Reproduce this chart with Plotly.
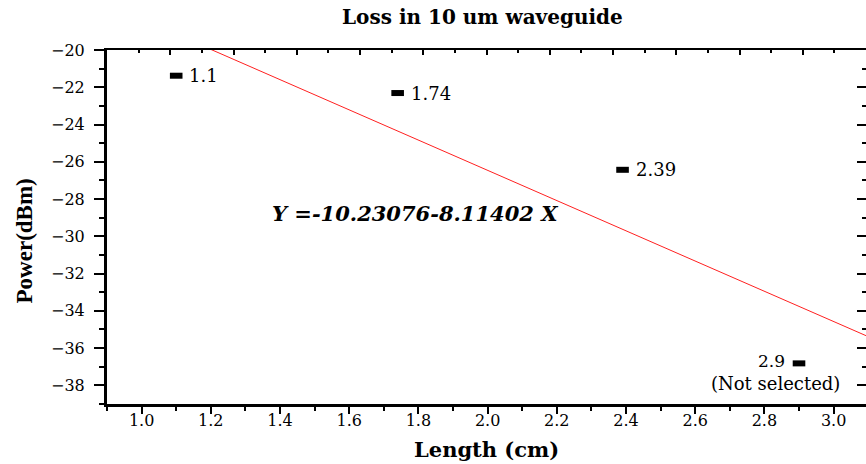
import plotly.graph_objects as go

# Measured output power at each waveguide length
lengths_cm = [1.1, 1.74, 2.39, 2.9]
power_dbm = [-21.38, -22.31, -26.43, -36.82]
point_labels = ["1.1", "1.74", "2.39", "2.9"]

# Linear fit reported for the measurements: Y = A + B*X
fit_intercept = -10.23076
fit_slope = -8.11402

x_range = [0.9, 3.0936]
y_range = [-39, -20]

SERIF = "DejaVu Serif"
TIMES = "Liberation Serif"

fig = go.Figure()

# Fitted line across the full x range (clipped by the plot area)
fit_x = list(x_range)
fit_y = [fit_intercept + fit_slope * v for v in fit_x]
fig.add_trace(go.Scatter(
    x=fit_x, y=fit_y, mode="lines",
    line=dict(color="#ff2020", width=1),
    showlegend=False, hoverinfo="skip",
))

# Data points as small filled bars
fig.add_trace(go.Scatter(
    x=lengths_cm, y=power_dbm, mode="markers",
    marker=dict(symbol="line-ew", size=9, color="black",
                line=dict(color="black", width=6)),
    showlegend=False,
))

# Dummy trace so the mirrored top/right axes are drawn
fig.add_trace(go.Scatter(x=[None], y=[None], xaxis="x2", yaxis="y2",
                         showlegend=False, hoverinfo="skip"))

label_font = dict(family=SERIF, size=18, color="black")
annotations = []
for xv, yv, txt in zip(lengths_cm[:3], power_dbm[:3], point_labels[:3]):
    annotations.append(dict(x=xv, y=yv, xref="x", yref="y", text=txt,
                            showarrow=False, xanchor="left", yanchor="middle",
                            xshift=11, font=label_font))
annotations.append(dict(x=lengths_cm[3], y=power_dbm[3], xref="x", yref="y",
                        text=point_labels[3], showarrow=False,
                        xanchor="right", yanchor="middle", xshift=-12,
                        yshift=2, font=dict(family=SERIF, size=17,
                                            color="black")))
annotations.append(dict(x=lengths_cm[3], y=power_dbm[3], xref="x", yref="y",
                        text="(Not selected)", showarrow=False,
                        xanchor="left", yanchor="middle", xshift=-90,
                        yshift=-20, font=dict(family=SERIF, size=18,
                                              color="black")))

# Fit equation
annotations.append(dict(x=1.371, y=-28.75, xref="x", yref="y",
                        text="<b><i>Y =-10.23076-8.11402 X</i></b>",
                        showarrow=False, xanchor="left", yanchor="middle",
                        font=dict(family=SERIF, size=21, color="black")))

# Titles
annotations.append(dict(x=0.495, y=1.093, xref="paper", yref="paper",
                        text="<b>Loss in 10 um waveguide</b>", showarrow=False,
                        xanchor="center", yanchor="middle",
                        font=dict(family=SERIF, size=20, color="black")))
annotations.append(dict(x=0.5, y=-0.128, xref="paper", yref="paper",
                        text="<b>Length (cm)</b>", showarrow=False,
                        xanchor="center", yanchor="middle",
                        font=dict(family=SERIF, size=21, color="black")))
annotations.append(dict(x=-0.109, y=0.46, xref="paper", yref="paper",
                        text="<b>Power(dBm)</b>", showarrow=False,
                        textangle=-90, xanchor="center", yanchor="middle",
                        font=dict(family=TIMES, size=23, color="black")))

tick_font = dict(family=SERIF, size=16, color="black")

fig.update_layout(
    width=866, height=464,
    margin=dict(l=107, r=0, t=50, b=60),
    paper_bgcolor="white", plot_bgcolor="white",
    annotations=annotations,
    xaxis=dict(
        range=x_range, dtick=0.2, tick0=0, tickformat=".1f",
        ticks="outside", ticklen=7, tickwidth=2, tickcolor="black",
        minor=dict(dtick=0.1, tick0=0, ticks="outside", ticklen=4,
                   tickwidth=2, tickcolor="black"),
        showline=True, linewidth=2.5, linecolor="black",
        showgrid=False, zeroline=False, tickfont=tick_font,
        ticklabelstandoff=-7,
    ),
    yaxis=dict(
        range=y_range, dtick=2, tick0=0,
        ticks="outside", ticklen=10, tickwidth=2, tickcolor="black",
        minor=dict(dtick=1, tick0=0, ticks="outside", ticklen=5,
                   tickwidth=2, tickcolor="black"),
        showline=True, linewidth=3, linecolor="black",
        showgrid=False, zeroline=False, tickfont=tick_font,
        ticklabelstandoff=6,
    ),
    xaxis2=dict(
        overlaying="x", side="top", anchor="y", range=[0, 12],
        dtick=1, tick0=0, ticks="inside", ticklen=5, tickwidth=2,
        tickcolor="black",
        minor=dict(dtick=0.5, tick0=0, ticks="inside", ticklen=3,
                   tickwidth=2, tickcolor="black"),
        showline=True, linewidth=2, linecolor="black",
        showticklabels=False, showgrid=False, zeroline=False,
    ),
    yaxis2=dict(
        overlaying="y", side="right", anchor="x", range=y_range,
        dtick=2, tick0=0, ticks="inside", ticklen=9, tickwidth=2,
        tickcolor="black",
        minor=dict(dtick=1, tick0=0, ticks="inside", ticklen=4,
                   tickwidth=2, tickcolor="black"),
        showline=False, showticklabels=False, showgrid=False,
        zeroline=False,
    ),
)

fig.write_html("out.html")
